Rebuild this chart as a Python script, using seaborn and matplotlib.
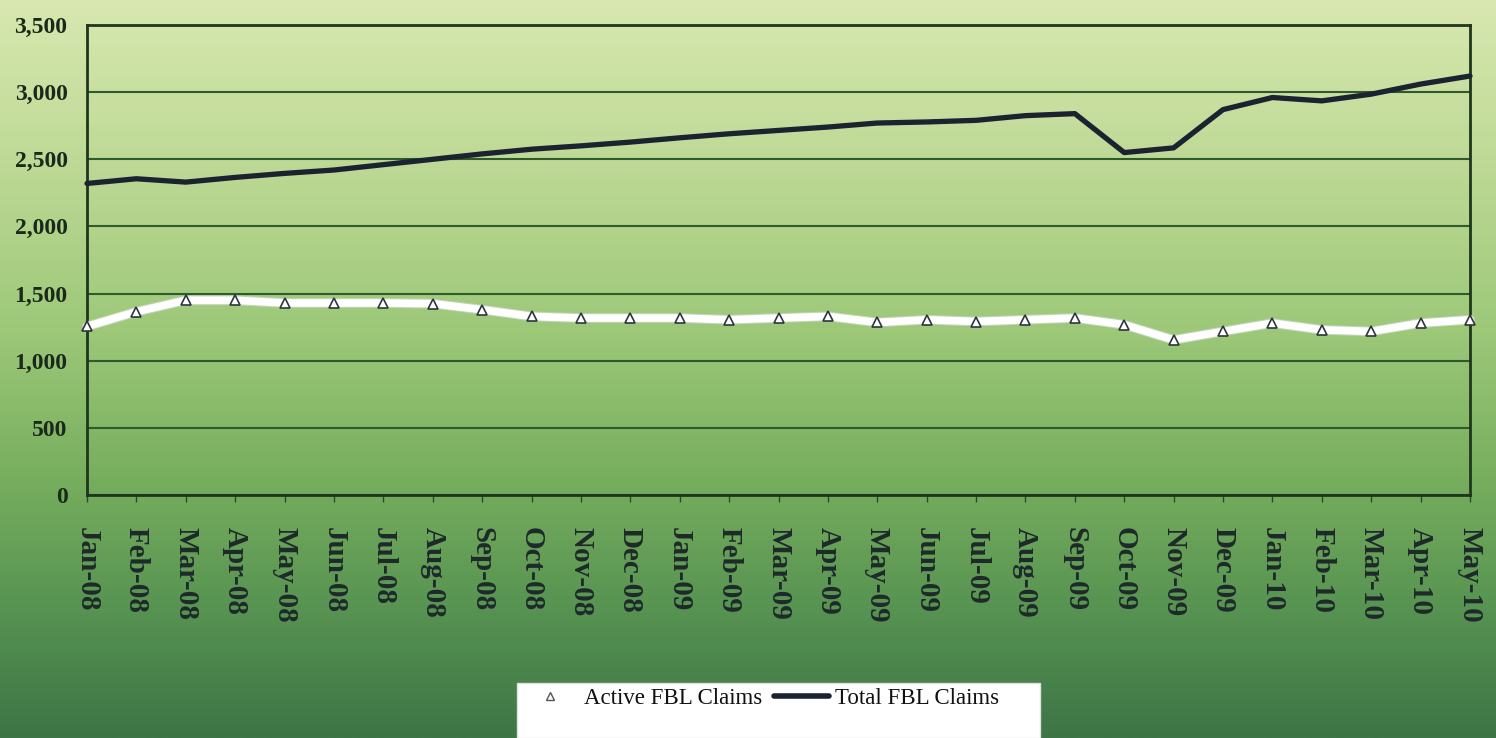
import numpy as np
import pandas as pd
import matplotlib
matplotlib.use("Agg")
import matplotlib.pyplot as plt
import matplotlib.patches as mpatches
from matplotlib.lines import Line2D
from matplotlib.colors import LinearSegmentedColormap
import matplotlib.patheffects as pe
import seaborn as sns

# ---- data ----
months = ["Jan-08", "Feb-08", "Mar-08", "Apr-08", "May-08", "Jun-08", "Jul-08",
          "Aug-08", "Sep-08", "Oct-08", "Nov-08", "Dec-08", "Jan-09", "Feb-09",
          "Mar-09", "Apr-09", "May-09", "Jun-09", "Jul-09", "Aug-09", "Sep-09",
          "Oct-09", "Nov-09", "Dec-09", "Jan-10", "Feb-10", "Mar-10", "Apr-10",
          "May-10"]
total_claims = [2320, 2355, 2330, 2365, 2395, 2420, 2460, 2500, 2540, 2575, 2600, 2628,
                2660, 2690, 2715, 2740, 2770, 2778, 2790, 2825, 2840, 2550, 2585, 2870,
                2960, 2935, 2985, 3060, 3120]
active_claims = [1255, 1365, 1450, 1450, 1430, 1430, 1430, 1425, 1380, 1330, 1318, 1318,
                 1318, 1305, 1318, 1330, 1285, 1305, 1292, 1305, 1318, 1268, 1155, 1218,
                 1280, 1230, 1218, 1280, 1305]
y_ticks = [0, 500, 1000, 1500, 2000, 2500, 3000, 3500]
legend_labels = ["Active FBL Claims", "Total FBL Claims"]

df = pd.DataFrame({"idx": np.arange(len(months)), "month": months,
                   "total": total_claims, "active": active_claims})

sns.set_theme(style="white")
plt.rcParams["font.family"] = ["Liberation Serif", "DejaVu Serif"]

W, H = 1496, 738
fig = plt.figure(figsize=(W / 100, H / 100), dpi=100)

# background gradient
bg = fig.add_axes([0, 0, 1, 1], zorder=-10)
cmap = LinearSegmentedColormap.from_list("bg", [
    (0.0, "#d8e8b0"), (0.25, "#bad792"), (0.45, "#9cc878"),
    (0.65, "#77ae5e"), (0.82, "#589452"), (1.0, "#3d7546")])
grad = np.linspace(0, 1, 256).reshape(-1, 1)
bg.imshow(grad, aspect="auto", cmap=cmap, extent=[0, 1, 0, 1], origin="upper")
bg.set_axis_off()

ax = fig.add_axes([87 / W, 1 - 495 / H, (1470 - 87) / W, (495 - 25) / H])
ax.set_facecolor("none")

sns.lineplot(data=df, x="idx", y="total", ax=ax, color="#1b2330", lw=3.8,
             clip_on=False, zorder=4)
sns.lineplot(data=df, x="idx", y="active", ax=ax, color="white", lw=5.5,
             clip_on=False, zorder=5,
             path_effects=[pe.Stroke(linewidth=7, foreground="#c4d4b8"), pe.Normal()])
sns.lineplot(data=df, x="idx", y="active", ax=ax, color="white", lw=0,
             marker="^", markersize=7, markerfacecolor="white",
             markeredgecolor="#2e3440", markeredgewidth=1.2, clip_on=False, zorder=6)

ax.set_xlim(0, len(months) - 1)
ax.set_ylim(0, 3500)
ax.set_yticks(y_ticks)
ax.set_yticklabels([f"{v:,}" for v in y_ticks], fontsize=17, fontweight="bold",
                   color="#1a2a1a")
ax.set_xticks(df["idx"])
ax.set_xticklabels(months, rotation=-90, fontsize=21, fontweight="bold",
                   color="#1e2a2a")
ax.tick_params(axis="y", length=0, pad=14)
ax.tick_params(axis="x", length=5, width=1, color="#2a4a2a", pad=18, direction="out",
               bottom=True)
ax.set_xlabel("")
ax.set_ylabel("")
ax.yaxis.grid(True, color="#2e5a2e", lw=1.5)
ax.xaxis.grid(False)
for s in ax.spines.values():
    s.set_visible(True)
    s.set_color("#1e361e")
    s.set_linewidth(2)

# legend
fig.patches.append(mpatches.Rectangle((517 / W, 0), (1040 - 517) / W, (738 - 683) / H,
                                      transform=fig.transFigure, facecolor="white",
                                      edgecolor="#e0e0e0", lw=1, zorder=1))
handles = [Line2D([], [], ls="none", marker="^", markersize=6, markerfacecolor="white",
                  markeredgecolor="#555555", markeredgewidth=1.0),
           Line2D([], [], color="#1b2330", lw=4)]
leg = fig.legend(handles, legend_labels, loc="center left",
                 bbox_to_anchor=(522 / W, 1 - 698 / H), ncol=2, frameon=False,
                 fontsize=16.5, handlelength=2.4, handletextpad=0.3, columnspacing=0.5,
                 borderpad=0, borderaxespad=0)
leg.set_zorder(5)
for t in leg.get_texts():
    t.set_color("#111111")

fig.savefig("out.png", dpi=100)
